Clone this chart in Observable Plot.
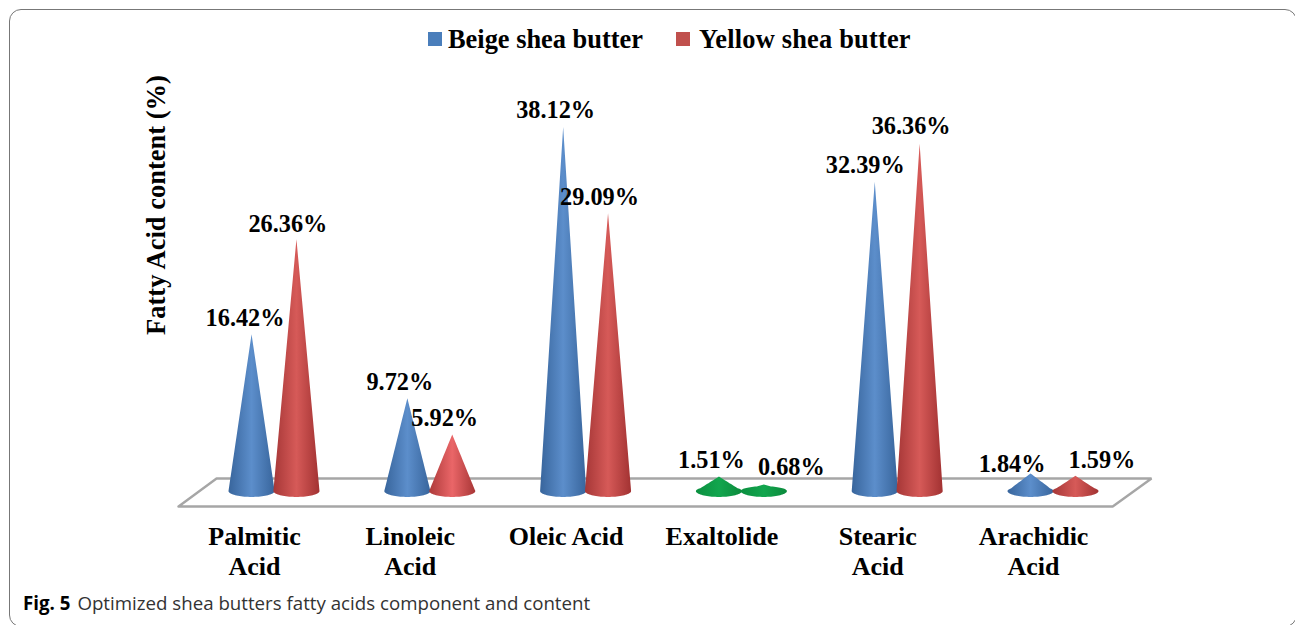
<!DOCTYPE html>
<html><head><meta charset="utf-8">
<script src="https://cdn.jsdelivr.net/npm/d3@7"></script>
<script src="https://cdn.jsdelivr.net/npm/@observablehq/plot@0.6"></script>
<style>
html,body{margin:0;padding:0;background:#fff;width:1295px;height:625px;overflow:hidden}
#frame{position:absolute;left:9px;top:8.5px;width:1288px;height:618px;border:1.3px solid #777;border-radius:12px;box-sizing:border-box}
#legend{position:absolute;top:0;left:0;width:1295px;height:60px;font:bold 26.4px "Liberation Serif",serif;color:#000}
#legend i{position:absolute;top:32px;width:14px;height:14px}
#legend span{position:absolute;top:25px;line-height:29px;white-space:nowrap}
#chart{position:absolute;top:60px;left:0}
#caption{position:absolute;left:23px;top:591px;font:18.7px "Open Sans",sans-serif;color:#333;white-space:nowrap;line-height:24px}
#caption b{color:#000;margin-right:7px}
</style></head><body>
<div id="frame"></div>
<div id="legend">
<i style="left:428px;background:#4a7ebb"></i><span style="left:448px">Beige shea butter</span>
<i style="left:676px;background:#c0504d"></i><span style="left:699px;letter-spacing:.2px">Yellow shea butter</span>
</div>
<div id="chart"></div>
<div id="caption"><b>Fig. 5</b>Optimized shea butters fatty acids component and content</div>
<script>
const categories = ["Palmitic\nAcid", "Linoleic\nAcid", "Oleic Acid", "Exaltolide", "Stearic\nAcid", "Arachidic\nAcid"];
const beige = [16.42, 9.72, 38.12, 1.51, 32.39, 1.84];
const yellow = [26.36, 5.92, 29.09, 0.68, 36.36, 1.59];
const beigeLabels = ["16.42%", "9.72%", "38.12%", "1.51%", "32.39%", "1.84%"];
const yellowLabels = ["26.36%", "5.92%", "29.09%", "0.68%", "36.36%", "1.59%"];
const axisTitle = "Fatty Acid content (%)";

// Geometry in category/value units
const coneOffset = 0.144, coneHalf = 0.148, baseBulge = 0.62;
const fills = [
  categories.map((c, i) => i === 3 ? "url(#green)" : "url(#blue)"),
  categories.map((c, i) => i === 3 ? "url(#green)" : i === 1 ? "url(#redlight)" : "url(#red)")
];
const nudgeBeige = [[-7,-16],[-8,-16],[-8,-17],[-8,-17],[-10,-17],[-19,-10]];
const nudgeYellow = [[-9,-16],[-8,-17],[-9,-16],[27,-18],[-9,-18],[26,-16]];
const floorX = [-0.616, -0.372, 5.629, 5.38, -0.616];
const floorY = [-1.57, 1.36, 1.36, -1.57, -1.57];

const steps = d3.range(-20, 21).map(k => Math.sin(k / 20 * Math.PI / 2));
function cone(center, value, fill) {
  const pts = steps.map(t => {
    const arc = baseBulge * Math.sqrt(1 - t * t);
    return {
      x: center + t * coneHalf,
      y1: -arc,
      y2: Math.max(value * (1 - Math.abs(t)), arc * 0.8)
    };
  });
  return Plot.area(pts, {x1: "x", y1: "y1", y2: "y2", fill, curve: "linear"});
}
function grad(id, a, b, c) {
  return `<linearGradient id="${id}" x1="0" x2="1" y1="0" y2="0"><stop offset="0" stop-color="${a}"/><stop offset="0.5" stop-color="${b}"/><stop offset="1" stop-color="${c}"/></linearGradient>`;
}
const serif = {fontFamily: "Liberation Serif", fontWeight: "bold", fill: "#000"};
const marks = [
  () => {
    const g = document.createElementNS("http://www.w3.org/2000/svg", "defs");
    g.innerHTML = grad("blue", "#38659c", "#5c8ecb", "#38659c") + grad("red", "#a63737", "#d65a58", "#a23232") +
      grad("redlight", "#ad3a3a", "#ea6668", "#a83636") + grad("green", "#0b8f3f", "#12a64e", "#0b8a3c");
    return g;
  },
  Plot.line(floorX.map((x, i) => ({x, y: floorY[i]})), {x: "x", y: "y", stroke: "#a6a6a6", strokeWidth: 2.4, strokeLinejoin: "miter"})
];
categories.forEach((c, i) => {
  marks.push(cone(i - coneOffset, beige[i], fills[0][i]));
  marks.push(cone(i + coneOffset, yellow[i], fills[1][i]));
});
categories.forEach((c, i) => {
  marks.push(Plot.text([beigeLabels[i]], {x: () => i - coneOffset, y: () => beige[i], text: d => d, dx: nudgeBeige[i][0], dy: nudgeBeige[i][1], fontSize: 24.3, ...serif}));
  marks.push(Plot.text([yellowLabels[i]], {x: () => i + coneOffset, y: () => yellow[i], text: d => d, dx: nudgeYellow[i][0], dy: nudgeYellow[i][1], fontSize: 24.3, ...serif}));
});
marks.push(Plot.text(categories, {x: (d, i) => i, y: () => 0, text: d => d, dx: -20, dy: 33, lineAnchor: "top", lineHeight: 1.13, fontSize: 26, ...serif}));
marks.push(Plot.text([axisTitle], {x: () => -0.757, y: () => 30, text: d => d, rotate: -90, fontSize: 26.5, ...serif}));

const chart = Plot.plot({
  width: 1295, height: 530,
  marginTop: 0, marginBottom: 0, marginLeft: 0, marginRight: 0,
  x: {type: "linear", domain: [0, 5], range: [274, 1053], axis: null},
  y: {type: "linear", domain: [0, 40], range: [431, 49], axis: null},
  style: {background: "transparent", overflow: "visible"},
  marks
});
document.getElementById("chart").append(chart);
</script>
</body></html>
